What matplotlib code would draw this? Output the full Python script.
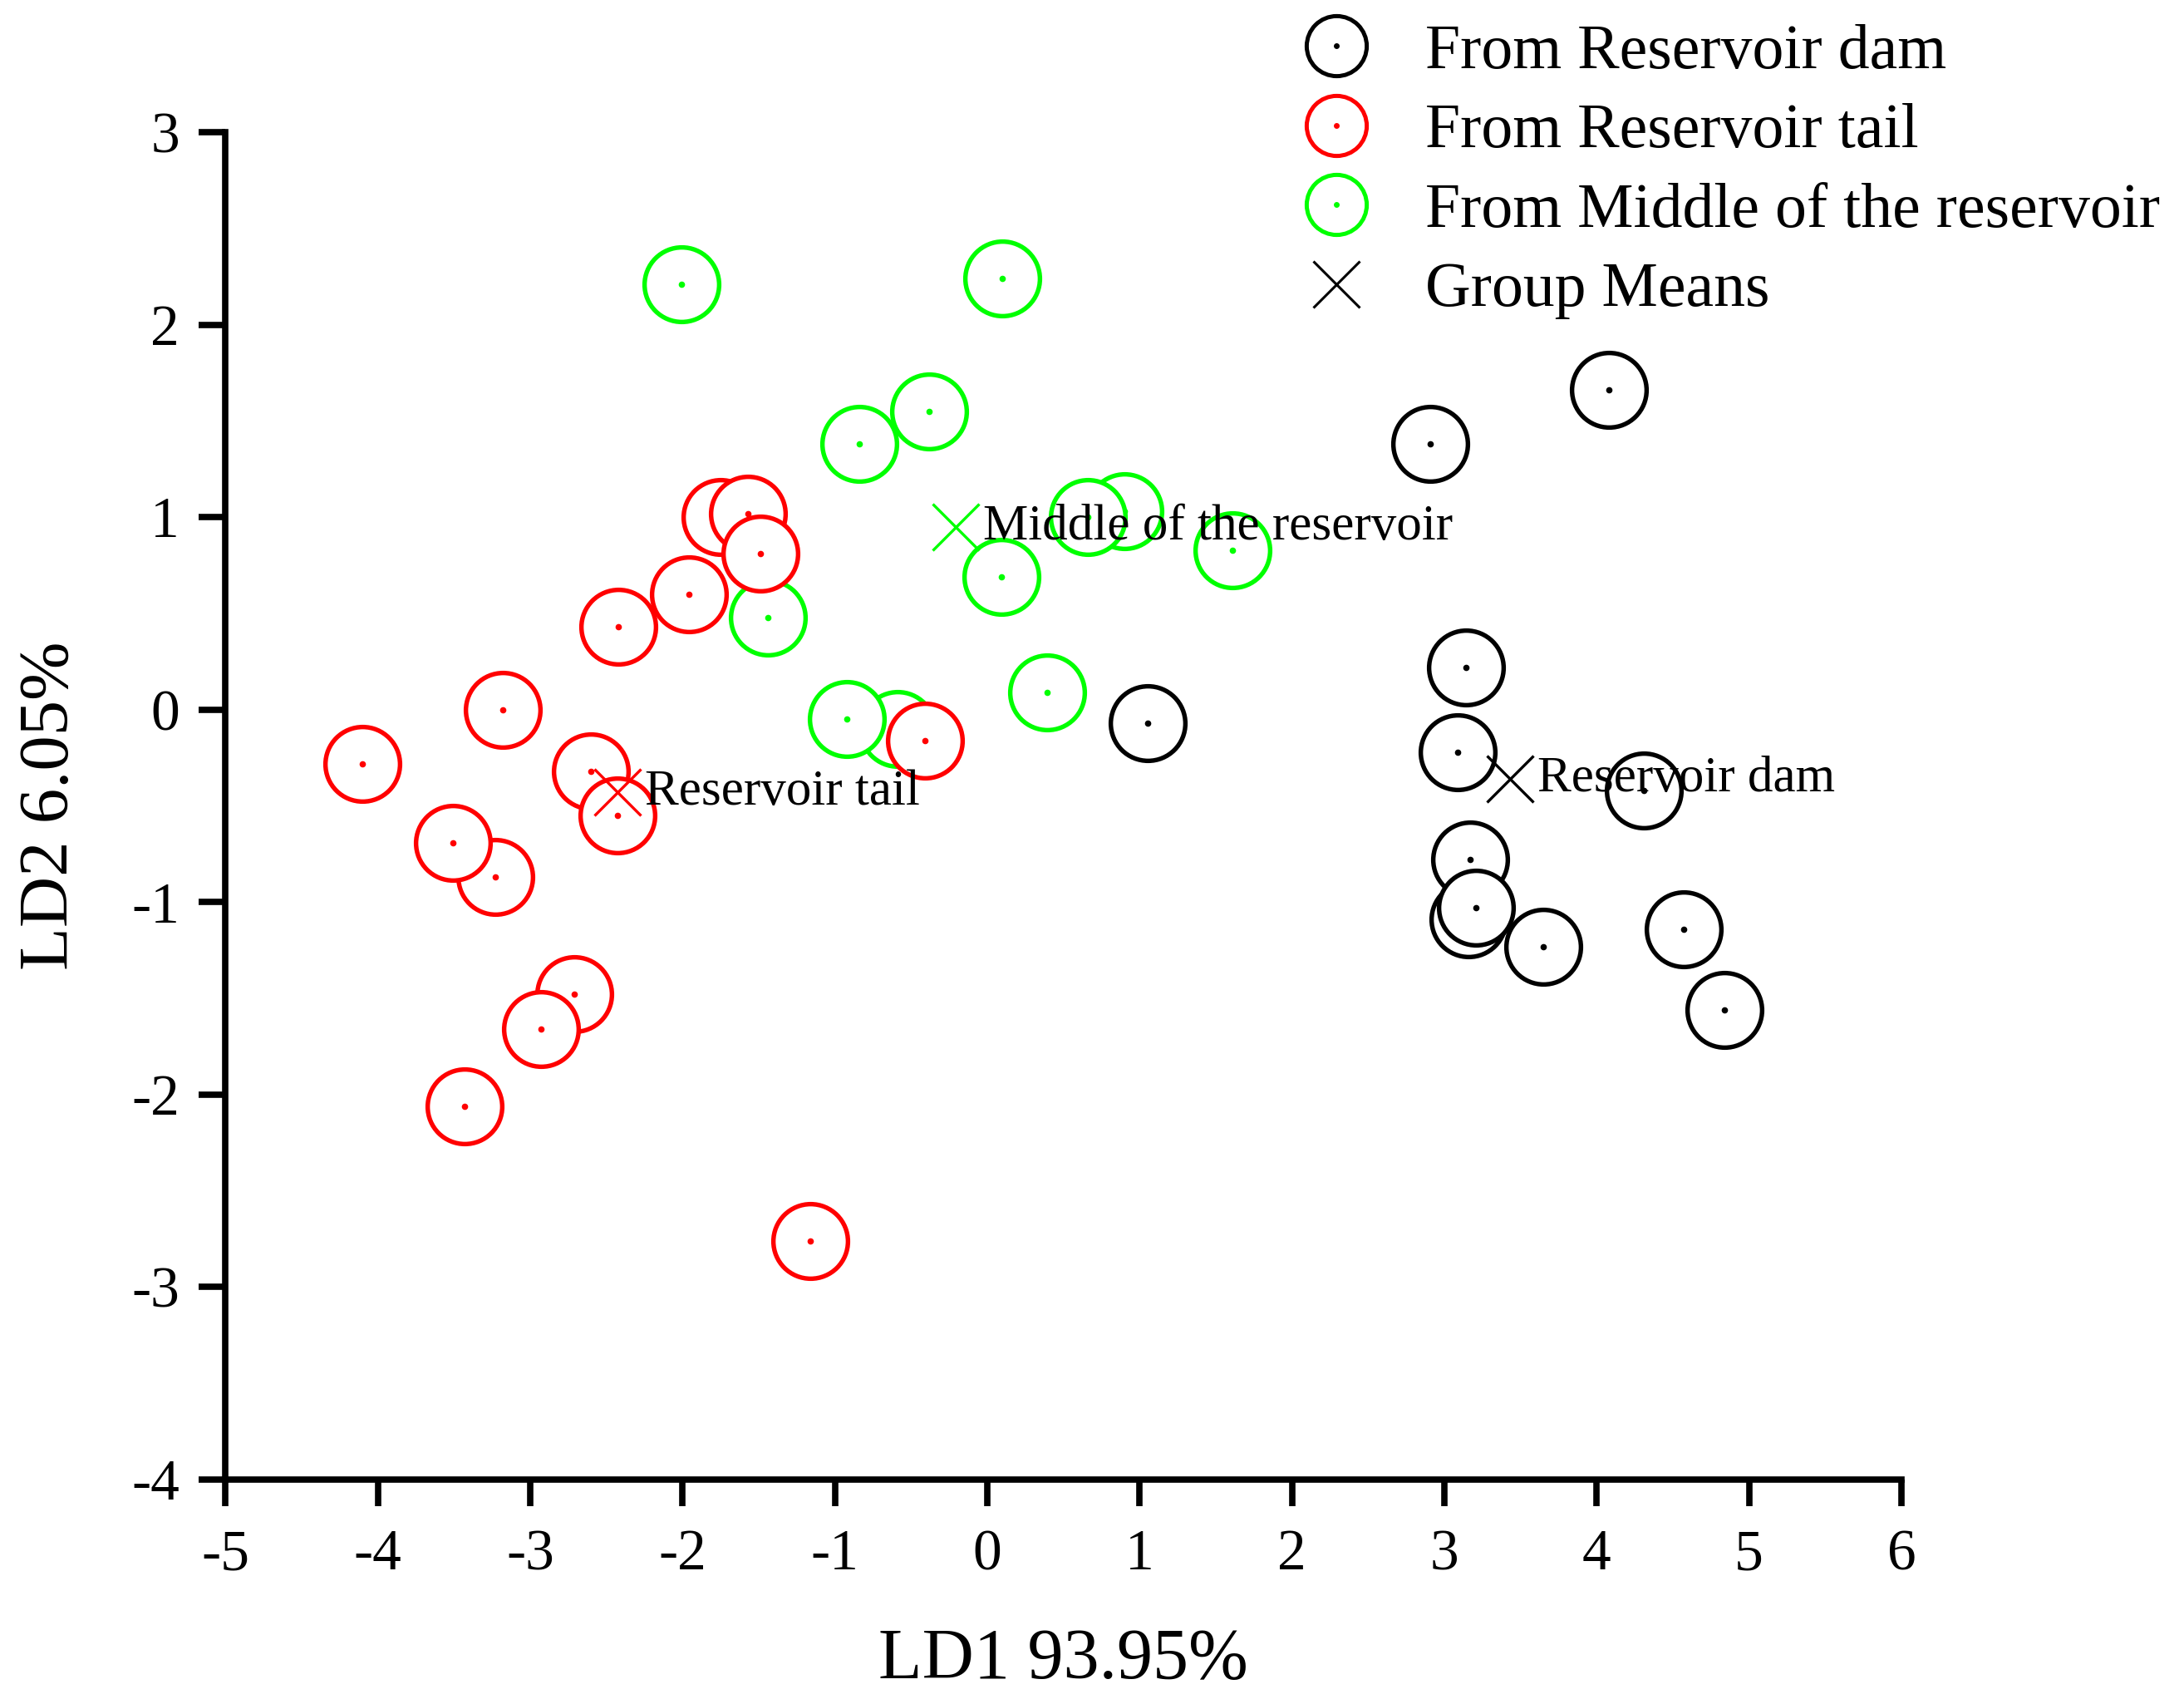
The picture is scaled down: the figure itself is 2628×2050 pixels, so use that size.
import matplotlib
matplotlib.use("Agg")
import matplotlib.pyplot as plt
from matplotlib.lines import Line2D

plt.rcParams['font.family'] = ['Liberation Serif', 'DejaVu Serif']
plt.rcParams['axes.unicode_minus'] = False

# LD scores, one list per origin
dam_x = [4.08, 2.91, 3.14, 1.05, 3.09, 4.31, 3.17, 3.16, 3.21, 3.65, 4.57, 4.84]
dam_y = [1.66, 1.38, 0.22, -0.07, -0.22, -0.42, -0.78, -1.09, -1.03, -1.23, -1.14, -1.56]

tail_x = [-4.10, -3.18, -2.42, -1.96, -1.75, -1.57, -1.49, -2.60, -2.43, -3.23, -3.51, -2.71, -2.93, -3.43, -1.16, -0.41]
tail_y = [-0.28, 0.00, 0.43, 0.60, 1.00, 1.02, 0.81, -0.32, -0.55, -0.87, -0.69, -1.48, -1.66, -2.06, -2.76, -0.16]

mid_x = [-2.01, 0.10, -0.38, -0.84, 0.90, 0.66, 1.61, 0.09, -1.44, 0.39, -0.59, -0.92]
mid_y = [2.21, 2.24, 1.55, 1.38, 1.03, 1.00, 0.83, 0.69, 0.48, 0.09, -0.10, -0.05]

# group means (centroids)
mean_names = ['Reservoir dam', 'Reservoir tail', 'Middle of the reservoir']
mean_x = [3.43, -2.43, -0.21]
mean_y = [-0.36, -0.43, 0.95]

legend_labels = ['From Reservoir dam', 'From Reservoir tail',
                 'From Middle of the reservoir', 'Group Means']

x_ticks = list(range(-5, 7))
y_ticks = list(range(-4, 4))

BLACK = '#000000'
RED = '#ff0000'
GREEN = '#00ff00'


def draw_group(ax, xs, ys, color, z0):
    # each point: white-filled ring then its centre dot, stacked in order
    z = z0
    for x, y in zip(xs, ys):
        ax.plot(x, y, ls='none', marker='o', ms=64.6, mfc='white', mec=color,
                mew=3.9, zorder=z)
        ax.plot(x, y, ls='none', marker='o', ms=5.5, mfc=color, mew=0,
                zorder=z + 0.01)
        z += 0.02
    return z


fig = plt.figure(figsize=(26.28, 20.5), dpi=100)
ax = fig.add_axes([0.1033, 0.1317, 0.7673, 0.7907])

z = draw_group(ax, mid_x, mid_y, GREEN, 2)
z = draw_group(ax, tail_x, tail_y, RED, z)
z = draw_group(ax, dam_x, dam_y, BLACK, z)

mean_colors = [BLACK, RED, GREEN]
for mx, my, c, name in zip(mean_x, mean_y, mean_colors, mean_names):
    ax.plot(mx, my, ls='none', marker='x', ms=40, mec=c, mew=2.4, zorder=z + 1)
    ax.annotate(name, (mx, my), xytext=(24, 0), textcoords='offset points',
                ha='left', va='center', fontsize=44, color='black',
                zorder=z + 2)

ax.set_xlim(-5, 6)
ax.set_ylim(-4, 3)
ax.set_xticks(x_ticks)
ax.set_yticks(y_ticks)
ax.set_xticklabels([str(t) for t in x_ticks])
ax.set_yticklabels([str(t) for t in y_ticks])

for s in ['top', 'right']:
    ax.spines[s].set_visible(False)
for s in ['left', 'bottom']:
    ax.spines[s].set_linewidth(5.5)

ax.tick_params(axis='both', direction='out', length=23, width=5.5,
               labelsize=50)
ax.tick_params(axis='x', pad=20)
ax.tick_params(axis='y', pad=17)

ax.set_xlabel('LD1 93.95%', fontsize=62, labelpad=40)
ax.set_ylabel('LD2 6.05%', fontsize=61, labelpad=42)

# legend: ring + centre dot for each origin, plain cross for the means
handles = []
for c in [BLACK, RED, GREEN]:
    ring = Line2D([], [], ls='none', marker='o', ms=52, mfc='white', mec=c, mew=3.6)
    dot = Line2D([], [], ls='none', marker='o', ms=5, mfc=c, mew=0)
    handles.append((ring, dot))
handles.append(Line2D([], [], ls='none', marker='x', ms=40, mec=BLACK, mew=2.2))

fig.legend(handles, legend_labels, loc='upper left',
           bbox_to_anchor=(0.5975, 0.986), fontsize=54.5, frameon=False,
           handlelength=1.0, handletextpad=0.91, labelspacing=0.35,
           borderpad=0, borderaxespad=0)

fig.savefig('out.png', dpi=100)
